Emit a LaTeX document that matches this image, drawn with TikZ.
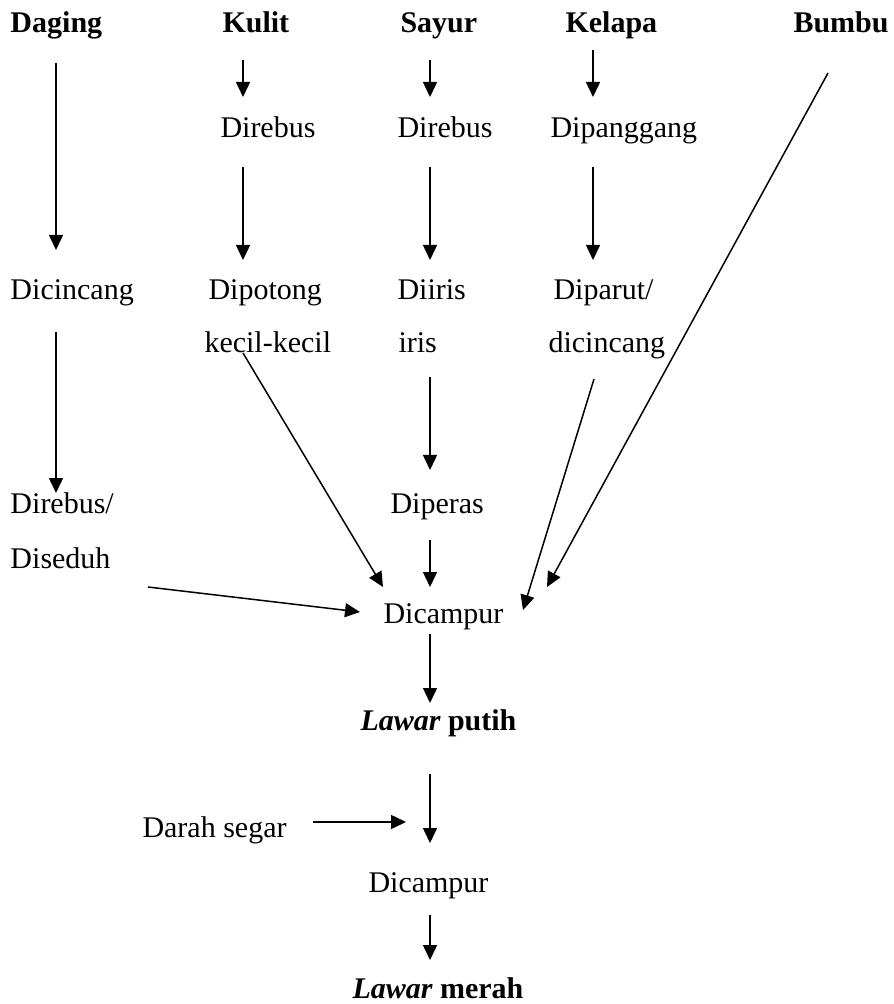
\documentclass[tikz,border=0pt]{standalone}
\usepackage{fontspec}
\setmainfont{Liberation Serif}
\usepackage{tikz}
\usetikzlibrary{arrows.meta}

\begin{document}
\begin{tikzpicture}[x=0.4pt, y=-0.4pt,
    txt/.style={anchor=base west, inner sep=0pt, font=\fontsize{12}{14}\selectfont},
    head/.style={txt, font=\fontsize{12}{14}\selectfont\bfseries},
    flow/.style={-{Triangle[length=6pt, width=5.6pt]}, line width=0.6pt}]
    \useasboundingbox (0,0) rectangle (893,1004);

    % Bahan
    \node[head] (daging) at (10,33) {Daging};
    \node[head] (kulit) at (222,33) {Kulit};
    \node[head] (sayur) at (400,33) {Sayur};
    \node[head] (kelapa) at (565,33) {Kelapa};
    \node[head] (bumbu) at (793,33) {Bumbu};

    % Tahap 1
    \node[txt] (kulitrebus) at (220,138) {Direbus};
    \node[txt] (sayurrebus) at (397,138) {Direbus};
    \node[txt] (panggang) at (550,138) {Dipanggang};

    % Tahap 2
    \node[txt] (cincang) at (10,300) {Dicincang};
    \node[txt] (potong) at (208,300) {Dipotong};
    \node[txt] (potongb) at (204,353) {kecil-kecil};
    \node[txt] (iris) at (397,300) {Diiris};
    \node[txt] (irisb) at (398,353) {iris};
    \node[txt] (parut) at (553,300) {Diparut/};
    \node[txt] (parutb) at (548,353) {dicincang};

    % Tahap 3
    \node[txt] (seduh) at (10,513) {Direbus/};
    \node[txt] (seduhb) at (10,568) {Diseduh};
    \node[txt] (peras) at (390,513) {Diperas};

    % Hasil
    \node[txt] (campur) at (383,623) {Dicampur};
    \node[txt] (putih) at (360,730) {\bfseries\itshape Lawar\upshape\ putih};
    \node[txt] (darah) at (142,837) {Darah segar};
    \node[txt] (campurb) at (368,892) {Dicampur};
    \node[txt] (merah) at (352,998) {\bfseries\itshape Lawar\upshape\ merah};

    % ujung panah
    \coordinate (daging-o) at (56,63);
    \coordinate (cincang-i) at (56,250);
    \coordinate (kulit-o) at (243,60);
    \coordinate (kulitrebus-i) at (243,97);
    \coordinate (sayur-o) at (430,60);
    \coordinate (sayurrebus-i) at (430,97);
    \coordinate (kelapa-o) at (593,50);
    \coordinate (panggang-i) at (593,97);
    \coordinate (bumbu-o) at (828,73);
    \coordinate (bumbu-i) at (547,587);
    \coordinate (kulitrebus-o) at (243,167);
    \coordinate (potong-i) at (243,260);
    \coordinate (sayurrebus-o) at (430,167);
    \coordinate (iris-i) at (430,260);
    \coordinate (panggang-o) at (593,167);
    \coordinate (parut-i) at (593,260);
    \coordinate (cincang-o) at (56,332);
    \coordinate (seduh-i) at (56,493);
    \coordinate (potong-o) at (243,353);
    \coordinate (potong-c) at (383,587);
    \coordinate (iris-o) at (430,377);
    \coordinate (peras-i) at (430,470);
    \coordinate (peras-o) at (430,540);
    \coordinate (peras-c) at (430,587);
    \coordinate (parut-o) at (594,379);
    \coordinate (parut-c) at (523,610);
    \coordinate (seduh-o) at (148,587);
    \coordinate (seduh-c) at (360,612);
    \coordinate (campur-o) at (430,634);
    \coordinate (putih-i) at (430,703);
    \coordinate (putih-o) at (430,774);
    \coordinate (campurb-i) at (430,843);
    \coordinate (darah-o) at (313,822);
    \coordinate (darah-i) at (406,822);
    \coordinate (campurb-o) at (430,915);
    \coordinate (merah-i) at (430,960);

    % Panah
    \draw[flow] (daging-o) -- (cincang-i);
    \draw[flow] (kulit-o) -- (kulitrebus-i);
    \draw[flow] (sayur-o) -- (sayurrebus-i);
    \draw[flow] (kelapa-o) -- (panggang-i);
    \draw[flow] (bumbu-o) -- (bumbu-i);
    \draw[flow] (kulitrebus-o) -- (potong-i);
    \draw[flow] (sayurrebus-o) -- (iris-i);
    \draw[flow] (panggang-o) -- (parut-i);
    \draw[flow] (cincang-o) -- (seduh-i);
    \draw[flow] (potong-o) -- (potong-c);
    \draw[flow] (iris-o) -- (peras-i);
    \draw[flow] (peras-o) -- (peras-c);
    \draw[flow] (parut-o) -- (parut-c);
    \draw[flow] (seduh-o) -- (seduh-c);
    \draw[flow] (campur-o) -- (putih-i);
    \draw[flow] (putih-o) -- (campurb-i);
    \draw[flow] (darah-o) -- (darah-i);
    \draw[flow] (campurb-o) -- (merah-i);
\end{tikzpicture}
\end{document}
